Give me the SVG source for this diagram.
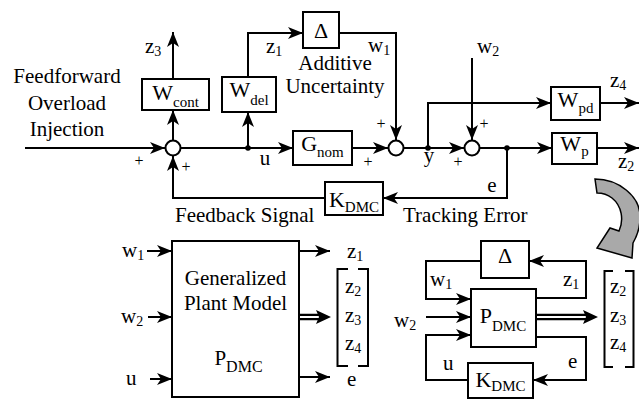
<svg xmlns="http://www.w3.org/2000/svg" width="639" height="400" viewBox="0 0 639 400">
<defs>
<style>
text{font-family:"Liberation Serif","Times New Roman",serif;fill:#000;font-size:21px}
.m{text-anchor:middle}
.bl{font-size:22px}
.s{font-size:14px}
.s2{font-size:15px}
.pl{font-size:16px;text-anchor:middle}
.box{fill:#fff;stroke:#000;stroke-width:2}
.ln{fill:none;stroke:#000;stroke-width:2}
.ar{fill:none;stroke:#000;stroke-width:2;marker-end:url(#ah)}
.sum{fill:#fff;stroke:#000;stroke-width:2}
</style>
<marker id="ah" markerUnits="userSpaceOnUse" markerWidth="15" markerHeight="12" viewBox="0 0 15 12" refX="15" refY="6" orient="auto">
<path d="M0,0 L15,6 L0,12 L4,6 z" fill="#000"/>
</marker>
</defs>
<rect width="639" height="400" fill="#fff"/>

<g id="connectors">
<path class="ar" d="M25,148 H165"/>
<path class="ar" d="M181,148 H293"/>
<path class="ar" d="M173,140 V110"/>
<path class="ar" d="M173,79 V32"/>
<path class="ar" d="M248,148 V112"/>
<path class="ar" d="M248,77 V33 H303"/>
<path class="ar" d="M339,33 H396 V140"/>
<path class="ar" d="M352,148 H388"/>
<path class="ar" d="M404,148 H464"/>
<path class="ar" d="M428,148 V103 H551"/>
<path class="ar" d="M600,103 H639"/>
<path class="ar" d="M472,58 V140"/>
<path class="ar" d="M480,148 H552"/>
<path class="ar" d="M597,148 H639"/>
<path class="ar" d="M507,148 V198 H383"/>
<path class="ar" d="M325,198 H173 V156"/>
<circle cx="248" cy="148" r="2.8"/>
<circle cx="428" cy="148" r="2.8"/>
<circle cx="507" cy="148" r="2.8"/>

<path class="ar" d="M147,251 H172"/>
<path class="ar" d="M148,317 H172"/>
<path class="ar" d="M150,379 H172"/>
<path class="ar" d="M299,251 H330"/>
<path class="ar" d="M299,377 H330"/>
<path d="M299,317 H320" stroke="#000" stroke-width="6.5" fill="none"/>
<path d="M298,317 H321" stroke="#fff" stroke-width="2" fill="none"/>
<path d="M316,310 L331,317 L316,324 L319,317 z" fill="#000"/>

<path class="ar" d="M481,261 H426 V299 H471"/>
<path class="ar" d="M426,317 H471"/>
<path class="ar" d="M468,380 H426 V335 H471"/>
<path class="ar" d="M536,298 H586 V261 H529"/>
<path class="ar" d="M536,337 H586 V380 H533"/>
<path d="M536,317 H587" stroke="#000" stroke-width="6.5" fill="none"/>
<path d="M535,317 H588" stroke="#fff" stroke-width="2" fill="none"/>
<path d="M583,310 L598,317 L583,324 L586,317 z" fill="#000"/>
</g>

<g id="curved-arrow">
<path d="M595,179 C618,179 641,196 640,218 C640,228 637,236 633,243 L632,258 L597,248 L610,228 L619,231 C624,220 622,206 612,198 C607,194 601,193 597,193 Z" fill="#a9a9a9" stroke="#000" stroke-width="1.5"/>
</g>

<g id="input-label">
<text class="m" x="67" y="83">Feedforward</text>
<text class="m" x="67" y="110">Overload</text>
<text class="m" x="67" y="136">Injection</text>
</g>

<g id="sum1">
<circle class="sum" cx="173" cy="148" r="7.5"/>
<text class="pl" x="139" y="166">+</text>
<text class="pl" x="186" y="172">+</text>
</g>
<g id="sum2">
<circle class="sum" cx="396" cy="148" r="7.5"/>
<text class="pl" x="381" y="129">+</text>
<text class="pl" x="368" y="167">+</text>
</g>
<g id="sum3">
<circle class="sum" cx="472" cy="148" r="7.5"/>
<text class="pl" x="484" y="129">+</text>
<text class="pl" x="458" y="167">+</text>
</g>

<g id="Wcont">
<rect class="box" x="142" y="79" width="67" height="31"/>
<text class="m bl" x="175.5" y="100">W<tspan class="s2" dy="7">cont</tspan></text>
</g>
<g id="Wdel">
<rect class="box" x="222" y="77" width="54" height="35"/>
<text class="m bl" x="249" y="97">W<tspan class="s2" dy="8">del</tspan></text>
</g>
<g id="Delta">
<rect class="box" x="303" y="12" width="36" height="36"/>
<text class="m bl" x="321" y="38">Δ</text>
<text class="m" x="335" y="70">Additive</text>
<text class="m" x="335" y="93">Uncertainty</text>
</g>
<g id="Gnom">
<rect class="box" x="293" y="131" width="59" height="34"/>
<text class="m bl" x="322.5" y="151">G<tspan class="s2" dy="6" font-size="16">nom</tspan></text>
</g>
<g id="Wpd">
<rect class="box" x="551" y="87" width="49" height="33"/>
<text class="m bl" x="575.5" y="107">W<tspan class="s2" dy="6">pd</tspan></text>
</g>
<g id="Wp">
<rect class="box" x="552" y="133" width="45" height="31"/>
<text class="m bl" x="574.5" y="151">W<tspan class="s2" dy="5">p</tspan></text>
</g>
<g id="Kdmc">
<rect class="box" x="325" y="182" width="58" height="33"/>
<text class="m bl" x="354" y="207">K<tspan class="s2" dy="5">DMC</tspan></text>
</g>

<g id="top-labels">
<text x="145" y="53">z<tspan class="s" dy="3">3</tspan></text>
<text x="266" y="53">z<tspan class="s" dy="3">1</tspan></text>
<text x="368" y="52">w<tspan class="s" dy="3">1</tspan></text>
<text x="477" y="53">w<tspan class="s" dy="3">2</tspan></text>
<text x="610" y="87">z<tspan class="s" dy="3">4</tspan></text>
<text x="618" y="168">z<tspan class="s" dy="3">2</tspan></text>
<text class="m" x="265" y="165">u</text>
<text class="m" x="429" y="162">y</text>
<text class="m" x="492" y="192">e</text>
<text x="175" y="222">Feedback Signal</text>
<text x="403" y="222">Tracking Error</text>
</g>

<g id="P-generalized">
<rect class="box" x="172" y="241" width="127" height="156"/>
<text class="m" x="235.5" y="285">Generalized</text>
<text class="m" x="235.5" y="310">Plant Model</text>
<text class="m" x="238.5" y="365" font-size="30">P<tspan font-size="16" dy="7">DMC</tspan></text>
<text x="122" y="257">w<tspan class="s" dy="3">1</tspan></text>
<text x="121" y="323">w<tspan class="s" dy="3">2</tspan></text>
<text x="126" y="385">u</text>
<text x="347" y="258">z<tspan class="s" dy="3">1</tspan></text>
<text x="347" y="386">e</text>
<path class="ln" d="M348,269 H337.5 V366 H348 M358,269 H368 V366 H358"/>
<text x="345" y="293">z<tspan class="s" dy="3">2</tspan></text>
<text x="345" y="322">z<tspan class="s" dy="3">3</tspan></text>
<text x="345" y="350">z<tspan class="s" dy="3">4</tspan></text>
</g>

<g id="loop-Delta">
<rect class="box" x="481" y="241" width="48" height="37"/>
<text class="m bl" x="505" y="263">Δ</text>
</g>
<g id="loop-P">
<rect class="box" x="471" y="289" width="65" height="58"/>
<text class="m bl" x="503" y="323">P<tspan class="s2" dy="8">DMC</tspan></text>
</g>
<g id="loop-K">
<rect class="box" x="468" y="363" width="65" height="35"/>
<text class="m bl" x="500.5" y="387">K<tspan class="s2" dy="4">DMC</tspan></text>
</g>
<g id="loop-labels">
<text x="430" y="286">w<tspan class="s" dy="3">1</tspan></text>
<text x="563" y="286">z<tspan class="s" dy="3">1</tspan></text>
<text x="394" y="327">w<tspan class="s" dy="3">2</tspan></text>
<text x="443" y="370">u</text>
<text x="568" y="368">e</text>
<path class="ln" d="M613,271 H604.5 V367 H613 M625,271 H633.5 V367 H625"/>
<text x="610" y="293">z<tspan class="s" dy="3">2</tspan></text>
<text x="610" y="322">z<tspan class="s" dy="3">3</tspan></text>
<text x="610" y="349">z<tspan class="s" dy="3">4</tspan></text>
</g>
</svg>
